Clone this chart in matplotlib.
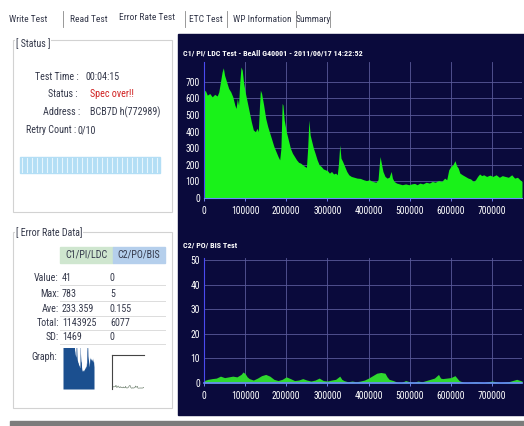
import matplotlib
matplotlib.use('Agg')
import matplotlib.pyplot as plt
from matplotlib.patches import Rectangle
from matplotlib import font_manager as fm

# C1/PI/LDC error counts (x = position in thousands of sectors)
c1_pos = [0, 3, 8, 14, 20, 26, 32, 36, 40, 44, 47, 50, 55, 60, 65, 70, 75, 78, 81, 84,
          87, 90, 93, 96, 100, 105, 110, 115, 120, 125, 129, 132, 135, 137, 140, 145, 150,
          155, 160, 165, 170, 175, 180, 184, 187, 190, 192, 195, 200, 205, 210, 215, 220,
          225, 230, 235, 240, 245, 249, 252, 255, 258, 262, 266, 270, 275, 280, 285, 290,
          295, 300, 305, 310, 315, 320, 324, 327, 330, 333, 337, 342, 347, 352, 358, 365,
          372, 380, 388, 395, 402, 410, 418, 423, 426, 428, 431, 435, 440, 445, 450, 455,
          458, 462, 468, 475, 482, 490, 498, 505, 512, 518, 525, 532, 540, 548, 555, 562,
          570, 578, 585, 590, 595, 600, 605, 610, 614, 618, 622, 628, 635, 642, 648, 655,
          660, 665, 670, 675, 680, 687, 695, 702, 710, 718, 725, 732, 740, 748, 755, 762,
          768, 773]
c1_val = [640, 650, 620, 630, 610, 625, 615, 640, 700, 760, 785, 740, 700, 660, 640, 610, 560, 540, 600, 560,
          700, 790, 770, 700, 640, 580, 520, 460, 410, 400, 420, 400, 560, 650, 630, 560, 480,
          430, 390, 350, 310, 280, 250, 230, 300, 570, 560, 470, 400, 350, 300, 270, 250,
          230, 215, 210, 200, 190, 185, 300, 470, 380, 340, 300, 270, 230, 200, 190, 175,
          170, 165, 150, 160, 145, 150, 140, 210, 320, 240, 220, 190, 160, 140, 130, 125,
          120, 118, 110, 105, 110, 100, 95, 110, 200, 250, 210, 160, 130, 120, 125, 160,
          120, 100, 90, 85, 80, 85, 80, 85, 88, 80, 90, 85, 95, 90, 100, 95,
          105, 100, 120, 110, 170, 190, 200, 225, 195, 180, 150, 140, 130, 120, 115, 100,
          110, 130, 145, 135, 140, 130, 138, 130, 140, 125, 135, 130, 125, 140, 120, 125,
          110, 100]

# C2/PO/BIS error counts
c2_pos = [0, 10, 20, 30, 40, 50, 60, 70, 80, 90, 95, 100, 105, 110, 120, 130, 140, 150, 160,
          170, 180, 190, 200, 210, 220, 230, 240, 250, 260, 270, 280, 290, 300, 310, 320,
          330, 335, 340, 350, 360, 370, 380, 390, 400, 410, 420, 430, 440, 445, 450, 460,
          470, 480, 490, 500, 510, 520, 530, 540, 550, 560, 570, 575, 580, 590, 600, 610,
          615, 620, 630, 640, 660, 680, 700, 720, 740, 760, 773]
c2_val = [1.0, 1.5, 1.8, 2.0, 2.8, 2.2, 2.5, 2.8, 2.5, 3.5, 4.5, 3.8, 2.5, 1.8, 1.2, 2.0, 3.0, 3.5, 2.8,
          1.5, 1.0, 1.5, 2.5, 1.8, 1.0, 1.2, 1.8, 1.2, 0.8, 1.2, 2.0, 1.0, 0.8, 1.2, 1.5,
          2.8, 1.5, 1.0, 0.5, 0.8, 0.5, 0.8, 1.2, 2.0, 3.0, 4.0, 4.3, 4.0, 2.5, 1.5, 1.0,
          0.3, 0.2, 1.0, 0.5, 0.3, 0.8, 0.5, 1.0, 1.5, 2.0, 3.5, 2.0, 1.8, 2.0, 2.2, 3.0,
          2.0, 1.0, 0.3, 0.2, 0.5, 0.2, 0.8, 0.2, 0.5, 1.5, 0.8]

x_ticks = [0, 100000, 200000, 300000, 400000, 500000, 600000, 700000]
c1_yticks = [0, 100, 200, 300, 400, 500, 600, 700]
c2_yticks = [0, 10, 20, 30, 40, 50]

tabs = ['Write Test', 'Read Test', 'Error Rate Test', 'ETC Test', 'WP Information', 'Summary']
status_labels = ['Test Time :', 'Status :', 'Address :', 'Retry Count :']
status_values = ['00:04:15', 'Spec over!!', 'BCB7D h(772989)', '0/10']
stat_labels = ['Value:', 'Max:', 'Ave:', 'Total:', 'SD:']
c1_stats = ['41', '783', '233.359', '1143925', '1469']
c2_stats = ['0', '5', '0.155', '6077', '0']

# pick a narrow font if one is installed
names = {f.name for f in fm.fontManager.ttflist}
FONT, STRETCH = 'DejaVu Sans', 'normal'
for cand in ['Liberation Sans Narrow', 'Roboto Condensed', 'Open Sans Condensed', 'DejaVu Sans Condensed']:
    if cand in names:
        FONT = cand
        break
else:
    if any(f.name == 'DejaVu Sans' and 'Condensed' in f.fname for f in fm.fontManager.ttflist):
        STRETCH = 'condensed'
FAM = [FONT, 'DejaVu Sans']

NAVY = '#0a0a3c'
TXT = '#34384a'

W, H = 524, 426
fig = plt.figure(figsize=(W / 100, H / 100), dpi=100)
renderer = fig.canvas.get_renderer()


def fit_size(s, width_px, weight='normal'):
    t = fig.text(0, 0, s, family=FAM, fontstretch=STRETCH, fontsize=10, fontweight=weight)
    w = t.get_window_extent(renderer=renderer).width
    t.remove()
    return 10 * width_px / w


LS = fit_size('Address : BCB7D h(772989)', 110)
TS = fit_size('WP Information', 58)
TTL = fit_size('C1/ PI/ LDC Test - BeAll G40001 - 2011/06/17 14:22:52', 180, 'bold')
TK = fit_size('100000', 28)

bg = fig.add_axes([0, 0, 1, 1])
bg.set_xlim(0, W)
bg.set_ylim(H, 0)
bg.axis('off')


def txt(x, y, s, size, **kw):
    kw.setdefault('color', TXT)
    kw.setdefault('va', 'center')
    return bg.text(x, y, s, family=FAM, fontstretch=STRETCH, fontsize=size, **kw)


# tab strip
tab_cx = [28, 89, 147, 206, 262, 313]
for i, t in enumerate(tabs):
    txt(tab_cx[i], 17 if i == 2 else 19, t, TS, ha='center')
for sx in [63, 185, 227, 296, 330]:
    bg.plot([sx, sx], [11, 27], color='#888888', lw=0.6)

# dark chart panel and bottom bar
bg.add_patch(Rectangle((178, 34), W - 178, 381, color=NAVY))
bg.add_patch(Rectangle((10, 421), W - 10, 5, color='#7c7c7c'))

# status group
bg.add_patch(Rectangle((13, 40), 159, 172, fill=False, ec='#d2d2d2', lw=0.8))
txt(16, 44, '[ Status ]', LS, bbox=dict(fc='white', ec='none', pad=0.5))
lab_x = [35, 48, 43, 26]
val_x = [85, 90, 90, 77]
row_y = [77, 94, 112, 130]
for i in range(4):
    txt(lab_x[i], row_y[i], status_labels[i], LS)
    txt(val_x[i], row_y[i], status_values[i], LS, color='#d02020' if i == 1 else TXT)
bg.add_patch(Rectangle((20, 157), 140, 16, color='#b3def5'))
for k in range(22, 160, 5):
    bg.plot([k, k], [158, 172], color='#e6f5fd', lw=0.8)

# error rate data group
bg.add_patch(Rectangle((13, 232), 159, 176, fill=False, ec='#d2d2d2', lw=0.8))
txt(16, 233, '[ Error Rate Data]', LS, bbox=dict(fc='white', ec='none', pad=0.5))
bg.add_patch(Rectangle((60, 247), 53, 16, color='#cfe6cf'))
bg.add_patch(Rectangle((113, 247), 52, 16, color='#b5cfec'))
txt(86, 255, 'C1/PI/LDC', LS, ha='center')
txt(139, 255, 'C2/PO/BIS', LS, ha='center')
tbl_y = [278, 294, 309, 323, 337]
for i in range(5):
    y = tbl_y[i]
    txt(59, y, stat_labels[i], LS, ha='right')
    txt(62, y, c1_stats[i], LS)
    txt(110, y, c2_stats[i], LS)
    bg.plot([60, 165], [y + 7, y + 7], color='#dcdcdc', lw=0.7)
txt(57, 357, 'Graph:', LS, ha='right')

c1_x = [p * 1000 for p in c1_pos]
c2_x = [p * 1000 for p in c2_pos]

# thumbnails
th1 = fig.add_axes([63 / W, 1 - 389 / H, 31 / W, 41 / H])
th1.fill_between(c1_x, c1_val, color='#1b4f8f', lw=0)
th1.set_xlim(0, 773000)
th1.set_ylim(0, 185)
th1.axis('off')
th2 = fig.add_axes([112 / W, 1 - 389 / H, 32 / W, 34 / H])
th2.plot(c2_x, c2_val, color='#7a8a7a', lw=0.5)
th2.set_xlim(0, 773000)
th2.set_ylim(-1, 50)
th2.set_xticks([])
th2.set_yticks([])
for s in ['right', 'bottom']:
    th2.spines[s].set_visible(False)
for s in ['top', 'left']:
    th2.spines[s].set_color('#444444')
    th2.spines[s].set_linewidth(0.8)


def chart(rect, ylim, yticks, title, title_y):
    ax = fig.add_axes(rect)
    ax.set_facecolor(NAVY)
    ax.set_xlim(0, 773000)
    ax.set_ylim(*ylim)
    ax.set_xticks(x_ticks)
    ax.set_xticklabels([str(v) for v in x_ticks])
    ax.set_yticks(yticks)
    ax.set_yticklabels([str(v) for v in yticks])
    ax.grid(True, color='#5a5a9a', lw=0.6)
    ax.set_axisbelow(True)
    for s in ['top', 'right']:
        ax.spines[s].set_visible(False)
    ax.spines['left'].set_color('#4a4af0')
    ax.spines['bottom'].set_color('#6a8cff')
    ax.tick_params(colors='white', labelsize=TK, length=2, width=0.6)
    ax.tick_params(axis='x', color='#8090ff', pad=4)
    ax.tick_params(axis='y', length=0, pad=3)
    for lab in ax.get_xticklabels() + ax.get_yticklabels():
        lab.set_family(FAM)
        lab.set_fontstretch(STRETCH)
    txt(183, title_y, title, TTL, fontweight='bold', color='white')
    return ax


ax1 = chart([204 / W, 1 - 198 / H, 318 / W, 136 / H], (0, 820), c1_yticks,
            'C1/ PI/ LDC Test - BeAll G40001 - 2011/06/17 14:22:52', 53)
ax1.fill_between(c1_x, c1_val, color='#19f219', lw=0)

ax2 = chart([204 / W, 1 - 383 / H, 318 / W, 125 / H], (0, 51), c2_yticks,
            'C2/ PO/ BIS Test', 245)
ax2.fill_between(c2_x, c2_val, color='#2fd82f', lw=0)
ax2.spines['bottom'].set_linewidth(1.2)

fig.savefig('out.png', dpi=100)
